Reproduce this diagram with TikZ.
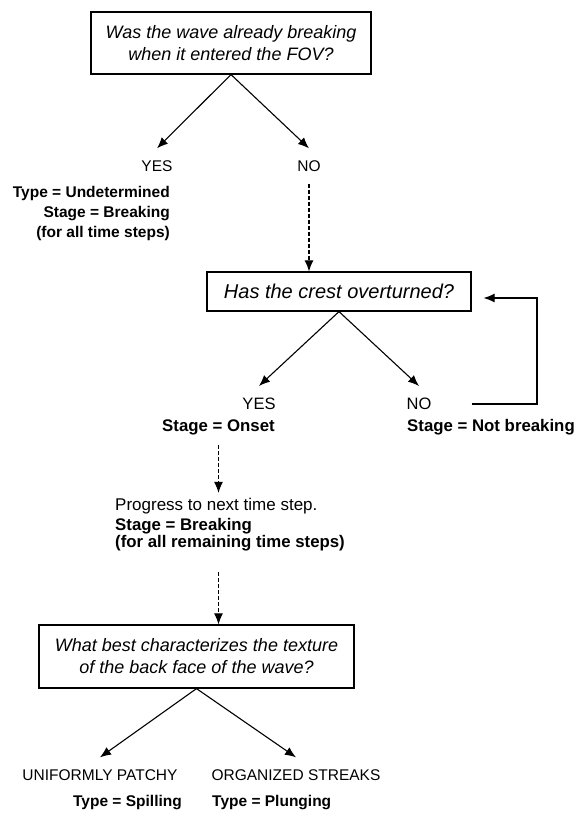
\documentclass[tikz,border=0pt]{standalone}
\usepackage{fontspec}
\setmainfont{Liberation Sans}
\usetikzlibrary{arrows.meta}

\begin{document}
\begin{tikzpicture}[x=1pt,y=-1pt,
  question/.style={draw,line width=1.2pt,align=center,inner sep=0pt,
    font=\fontsize{18}{22}\selectfont\itshape},
  answer/.style={inner sep=0pt,font=\fontsize{15.5}{18}\selectfont},
  result/.style={inner sep=0pt,font=\fontsize{15.5}{20}\selectfont\bfseries},
  arr/.style={-{Latex[length=11pt,width=9pt]},line width=1.1pt},
  darr/.style={arr,dash pattern=on 4pt off 2pt}]
  \useasboundingbox (0,0) rectangle (577,814);

  % first question
  \node[question,minimum width=280pt,minimum height=62pt] (q1) at (231,43) {Was the wave already breaking\\when it entered the FOV?};
  \node[answer] (yes1) at (157,166) {YES};
  \node[answer] (no1) at (309,166) {NO};
  \node[result,align=right,anchor=north east] (res1) at (170,186) {Type = Undetermined\\Stage = Breaking\\(for all time steps)};

  \draw[arr] (q1.south) -- ([yshift=12pt]yes1.north);
  \draw[arr] (q1.south) -- ([yshift=12pt]no1.north);

  % second question
  \node[question,minimum width=264pt,minimum height=39pt,font=\fontsize{20}{22}\selectfont\itshape] (q2) at (339,291.5) {Has the crest overturned?};
  \node[answer,font=\fontsize{16.5}{18}\selectfont] (yes2) at (259,404) {YES};
  \node[answer,font=\fontsize{16.5}{18}\selectfont] (no2) at (419,404) {NO};
  \node[result,font=\fontsize{16.8}{20}\selectfont\bfseries] (onset) at (218.5,427) {Stage = Onset};
  \node[result,anchor=west,font=\fontsize{16.8}{20}\selectfont\bfseries] (notbrk) at (407,427) {Stage = Not breaking};
  \coordinate (bend) at (537,298);

  \draw[darr] ([yshift=-12pt]no1.south) -- (no1 |- q2.north);
  \draw[arr] (q2.south) -- ([yshift=12pt]yes2.north);
  \draw[arr] (q2.south) -- ([yshift=12pt]no2.north);
  \draw[arr,shorten >=12pt] ([xshift=40pt]no2.east) -| (bend) -- (q2.east |- bend);

  % next time step
  \node[answer,anchor=west,font=\fontsize{17}{18}\selectfont] (prog) at (115,506) {Progress to next time step.};
  \node[result,anchor=north west,align=left,font=\fontsize{16.8}{17}\selectfont\bfseries] (brk) at (115,518) {Stage = Breaking\\(for all remaining time steps)};

  \draw[darr,shorten >=5pt] ([yshift=-10pt]onset.south) -- (onset |- prog.north);

  % third question
  \node[question,minimum width=315pt,minimum height=63pt] (q3) at (196.5,656.5) {What best characterizes the texture\\of the back face of the wave?};
  \node[answer] (patchy) at (100,775) {UNIFORMLY PATCHY};
  \node[answer] (streaks) at (296,775) {ORGANIZED STREAKS};
  \node[result,anchor=east] (spill) at (182,803) {Type = Spilling};
  \node[result,anchor=west] (plunge) at (212,803) {Type = Plunging};

  \draw[darr] (onset |- 0,572) -- (onset |- q3.north);
  \draw[arr] (q3.south) -- ([yshift=12pt]patchy.north);
  \draw[arr] (q3.south) -- ([yshift=12pt]streaks.north);
\end{tikzpicture}
\end{document}
